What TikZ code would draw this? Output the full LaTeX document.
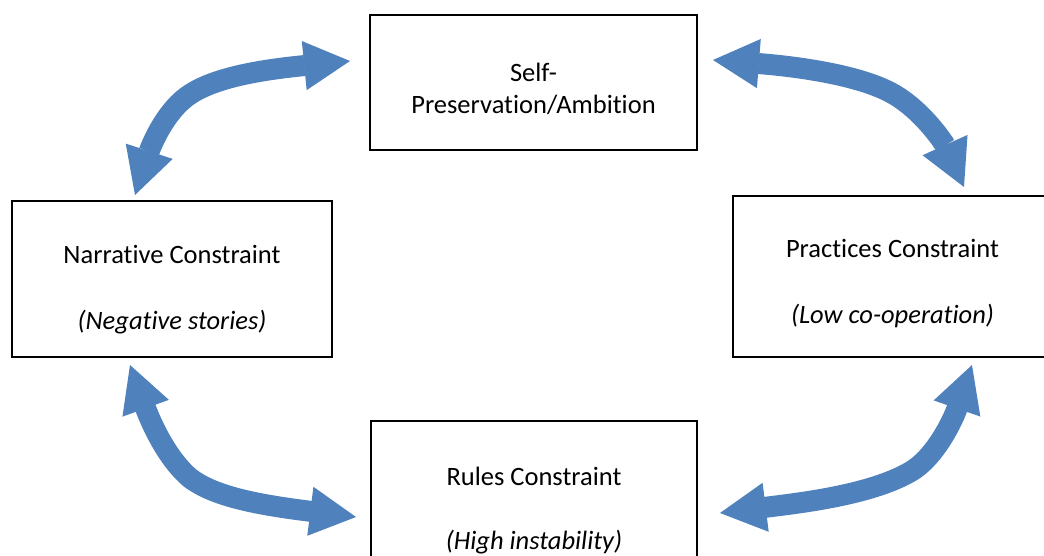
\documentclass[tikz,border=0pt]{standalone}
\usepackage{fontspec}
\setmainfont{Carlito}[Ligatures=NoCommon]
\usetikzlibrary{arrows.meta}
\definecolor{accentblue}{HTML}{4F81BD}
\begin{document}
\begin{tikzpicture}[x=1pt,y=-1pt,
  box/.style={draw=black, line width=2pt, fill=white, inner sep=0pt, outer sep=0pt},
  boxtext/.style={font=\fontsize{26.5}{33}\selectfont, anchor=base, inner sep=0pt},
  cyclearrow/.style={accentblue, line width=21pt,
    {Triangle[length=46pt,width=49pt,line width=1.5pt]}-{Triangle[length=46pt,width=49pt,line width=1.5pt]}}]
\useasboundingbox (0,0) rectangle (1044,556);
\clip (0,0) rectangle (1044,556);

% the four boxes
\node[box, minimum width=327pt, minimum height=135pt] (self) at (533.5,82.5) {};
\node[box, minimum width=320pt, minimum height=156pt] (narr) at (172,279) {};
\node[box, minimum width=319pt, minimum height=161pt] (prac) at (892.5,276.5) {};
\node[box, minimum width=326pt, minimum height=179pt] (rules) at (534,510.5) {};

% box texts
\node[boxtext] (self1) at (533.5,82) {Self-};
\node[boxtext] (self2) at (533.5,114) {Preservation/Ambition};
\node[boxtext] (narr1) at (172,263) {Narrative Constraint};
\node[boxtext] (narr2) at (172,329) {\itshape (Negative stories)};
\node[boxtext] (prac1) at (892.5,258) {Practices Constraint};
\node[boxtext] (prac2) at (892.5,323) {\itshape (Low co-operation)};
\node[boxtext] (rules1) at (534,485) {Rules Constraint};
\node[boxtext] (rules2) at (534,549) {\itshape (High instability)};

% arrow end points in the gaps between the boxes
\coordinate (narrTop) at (135,195);
\coordinate (selfLeft) at (350,61);
\coordinate (selfRight) at (713,60);
\coordinate (pracTop) at (964,187);
\coordinate (narrBottom) at (130,365);
\coordinate (rulesLeft) at (356,517);
\coordinate (rulesRight) at (720,513);
\coordinate (pracBottom) at (972,365);

% curved double arrows
\draw[cyclearrow] (narrTop) .. controls (148,155) and (160,118) .. (185,98)
  .. controls (210,78) and (260,70) .. (selfLeft);
\draw[cyclearrow] (selfRight) .. controls (790,66) and (860,74) .. (895,95)
  .. controls (925,113) and (945,145) .. (pracTop);
\draw[cyclearrow] (narrBottom) .. controls (147,412) and (163,455) .. (190,478)
  .. controls (215,497) and (260,505) .. (rulesLeft);
\draw[cyclearrow] (rulesRight) .. controls (800,503) and (870,495) .. (910,472)
  .. controls (935,458) and (953,420) .. (pracBottom);
\end{tikzpicture}
\end{document}
